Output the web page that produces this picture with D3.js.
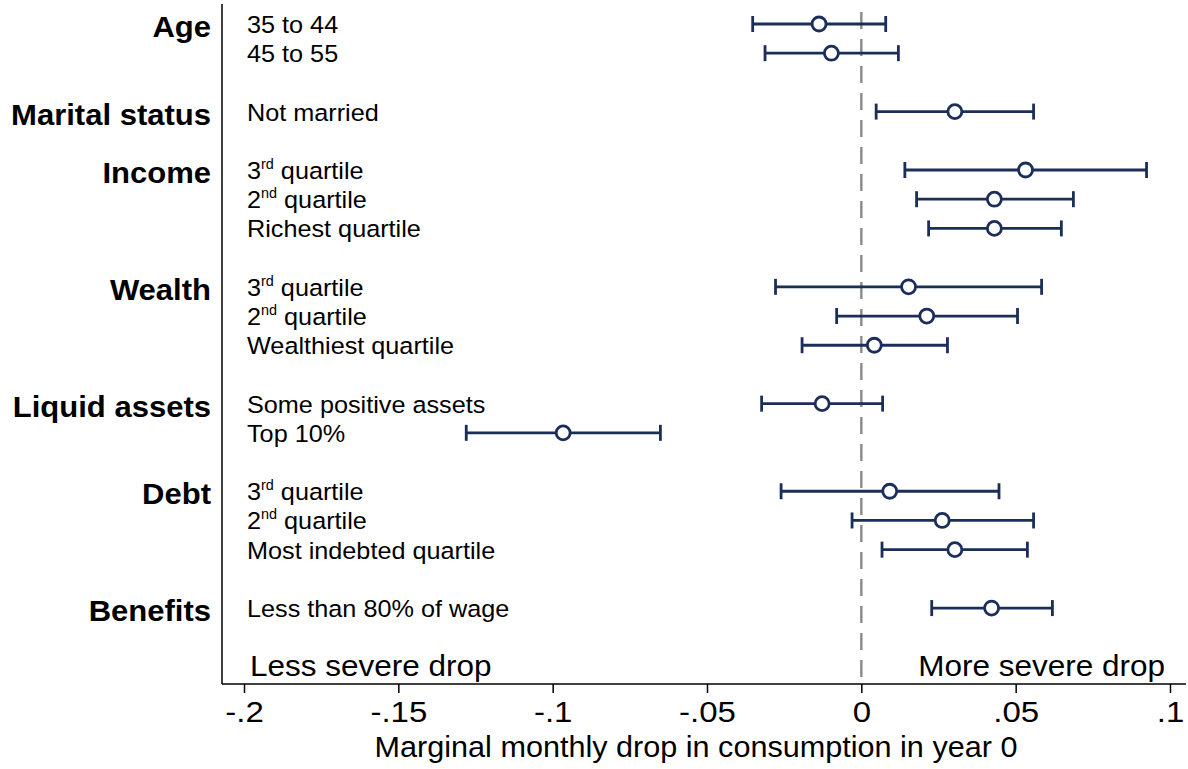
<!DOCTYPE html>
<html>
<head>
<meta charset="utf-8">
<script src="https://cdn.jsdelivr.net/npm/d3@7"></script>
<style>
  body { margin: 0; background: #fff; }
  svg { display: block; font-family: Arial, "Liberation Sans", Helvetica, sans-serif; }
</style>
</head>
<body>
<div id="chart"></div>
<script>
// group headings and how many rows each one has
var groups = ["Age", "Marital status", "Income", "Wealth", "Liquid assets", "Debt", "Benefits"];
var groupSizes = [2, 1, 3, 3, 2, 3, 1];

// row labels: [main text, superscript, rest]
var rowLabels = [
    ["35 to 44", "", ""],
    ["45 to 55", "", ""],
    ["Not married", "", ""],
    ["3", "rd", " quartile"],
    ["2", "nd", " quartile"],
    ["Richest quartile", "", ""],
    ["3", "rd", " quartile"],
    ["2", "nd", " quartile"],
    ["Wealthiest quartile", "", ""],
    ["Some positive assets", "", ""],
    ["Top 10%", "", ""],
    ["3", "rd", " quartile"],
    ["2", "nd", " quartile"],
    ["Most indebted quartile", "", ""],
    ["Less than 80% of wage", "", ""]
];

var estimates = [-0.0137, -0.0097, 0.0303, 0.0532, 0.0431, 0.0431, 0.0153, 0.0212, 0.0042, -0.0127, -0.0966, 0.0092, 0.0262, 0.0303, 0.0422];
var lower     = [-0.0352, -0.0312, 0.0048, 0.0141, 0.0179, 0.0218, -0.0278, -0.0080, -0.0192, -0.0323, -0.1280, -0.0260, -0.0030, 0.0067, 0.0228];
var upper     = [0.0079, 0.0120, 0.0558, 0.0924, 0.0687, 0.0648, 0.0584, 0.0506, 0.0279, 0.0069, -0.0651, 0.0446, 0.0558, 0.0538, 0.0619];

var xTicks = [-0.2, -0.15, -0.1, -0.05, 0, 0.05, 0.1];
var xTickLabels = ["-.2", "-.15", "-.1", "-.05", "0", ".05", ".1"];
var xTitle = "Marginal monthly drop in consumption in year 0";
var leftNote = "Less severe drop";
var rightNote = "More severe drop";

var width = 1188, height = 769;
var navy = "#1b2d59";

// the original text is a bit wider than Arial, so stretch it sideways
function stretch(sel, sx) {
    sel.each(function () {
        var t = d3.select(this);
        var tx = +t.attr("x") || 0, ty = +t.attr("y") || 0;
        t.attr("x", 0).attr("y", 0)
            .attr("transform", "translate(" + tx + "," + ty + ") scale(" + sx + ",1)");
    });
}

// work out the row slot of every item, with a blank slot between groups
var rows = [];
var groupRows = [];
var slot = 0, k = 0;
groups.forEach(function (g, gi) {
    groupRows.push(slot);
    for (var j = 0; j < groupSizes[gi]; j++) {
        rows.push({
            slot: slot,
            label: rowLabels[k],
            est: estimates[k],
            lo: lower[k],
            hi: upper[k]
        });
        slot++; k++;
    }
    slot++;
});

var x = d3.scaleLinear().domain([-0.2, 0.1]).range([244, 1170]);
var y = d3.scaleLinear().domain([-0.65, 22.6]).range([5, 684]);

var svg = d3.select("#chart").append("svg")
    .attr("width", width)
    .attr("height", height);

var axisLeftX = 222, axisRightX = 1186, axisY = y(22.6), plotTop = y(-0.65) - 1;

// zero reference line
svg.append("line")
    .attr("x1", x(0)).attr("x2", x(0))
    .attr("y1", plotTop + 8).attr("y2", axisY)
    .attr("stroke", "#8a8a8a")
    .attr("stroke-width", 2.4)
    .attr("stroke-dasharray", "17,10");

// vertical axis line
svg.append("line")
    .attr("x1", axisLeftX).attr("x2", axisLeftX)
    .attr("y1", plotTop).attr("y2", axisY)
    .attr("stroke", "#000").attr("stroke-width", 1.5);

// x axis
var xAxis = d3.axisBottom(x)
    .tickValues(xTicks)
    .tickSize(9)
    .tickPadding(6)
    .tickFormat(function (d, i) { return xTickLabels[i]; });

var gx = svg.append("g")
    .attr("transform", "translate(0," + axisY + ")")
    .call(xAxis);
gx.select(".domain").remove();
gx.selectAll(".tick line").attr("stroke", "#000").attr("stroke-width", 1.5);
gx.selectAll(".tick text")
    .attr("font-size", "30px")
    .attr("font-family", "Arial, 'Liberation Sans', sans-serif")
    .attr("fill", "#000")
    .attr("dy", "0.75em")
    .attr("transform", "scale(1.1,1)")
    .attr("y", 16);

svg.append("line")
    .attr("x1", axisLeftX).attr("x2", axisRightX)
    .attr("y1", axisY).attr("y2", axisY)
    .attr("stroke", "#000").attr("stroke-width", 1.5);

svg.append("text")
    .attr("x", 696)
    .attr("y", 757)
    .attr("text-anchor", "middle")
    .attr("font-size", "30px")
    .text(xTitle)
    .call(stretch, 1.02);

// notes inside the plot
svg.append("text")
    .attr("x", 250).attr("y", 676)
    .attr("font-size", "30px")
    .text(leftNote)
    .call(stretch, 1.05);
svg.append("text")
    .attr("x", 1165).attr("y", 676)
    .attr("text-anchor", "end")
    .attr("font-size", "30px")
    .text(rightNote)
    .call(stretch, 1.05);

// group headings
svg.selectAll("text.group")
    .data(groups)
    .enter()
    .append("text")
    .attr("class", "group")
    .attr("x", 211)
    .attr("y", function (d, i) { return y(groupRows[i]) + 13; })
    .attr("text-anchor", "end")
    .attr("font-size", "29px")
    .attr("font-weight", "bold")
    .text(function (d) { return d; })
    .call(stretch, 1.07);

// row labels
var lab = svg.selectAll("text.row")
    .data(rows)
    .enter()
    .append("text")
    .attr("class", "row")
    .attr("x", 247)
    .attr("y", function (d) { return y(d.slot) + 9; })
    .attr("font-size", "24.5px");

lab.append("tspan").text(function (d) { return d.label[0]; });
lab.append("tspan")
    .attr("dy", -10)
    .attr("font-size", "14px")
    .text(function (d) { return d.label[1]; });
lab.append("tspan")
    .attr("dy", function (d) { return d.label[1] ? 10 : 0; })
    .text(function (d) { return d.label[2]; });
lab.call(stretch, 1.03);

// confidence intervals
var ci = svg.selectAll("g.ci")
    .data(rows)
    .enter()
    .append("g")
    .attr("class", "ci");

ci.append("line")
    .attr("x1", function (d) { return x(d.lo); })
    .attr("x2", function (d) { return x(d.hi); })
    .attr("y1", function (d) { return y(d.slot); })
    .attr("y2", function (d) { return y(d.slot); })
    .attr("stroke", navy).attr("stroke-width", 2.8);

ci.selectAll("line.cap")
    .data(function (d) { return [{ v: d.lo, s: d.slot }, { v: d.hi, s: d.slot }]; })
    .enter()
    .append("line")
    .attr("class", "cap")
    .attr("x1", function (d) { return x(d.v); })
    .attr("x2", function (d) { return x(d.v); })
    .attr("y1", function (d) { return y(d.s) - 8; })
    .attr("y2", function (d) { return y(d.s) + 8; })
    .attr("stroke", navy).attr("stroke-width", 2.8);

ci.append("circle")
    .attr("cx", function (d) { return x(d.est); })
    .attr("cy", function (d) { return y(d.slot); })
    .attr("r", 7)
    .attr("fill", "#fff")
    .attr("stroke", navy)
    .attr("stroke-width", 2.8);
</script>
</body>
</html>
